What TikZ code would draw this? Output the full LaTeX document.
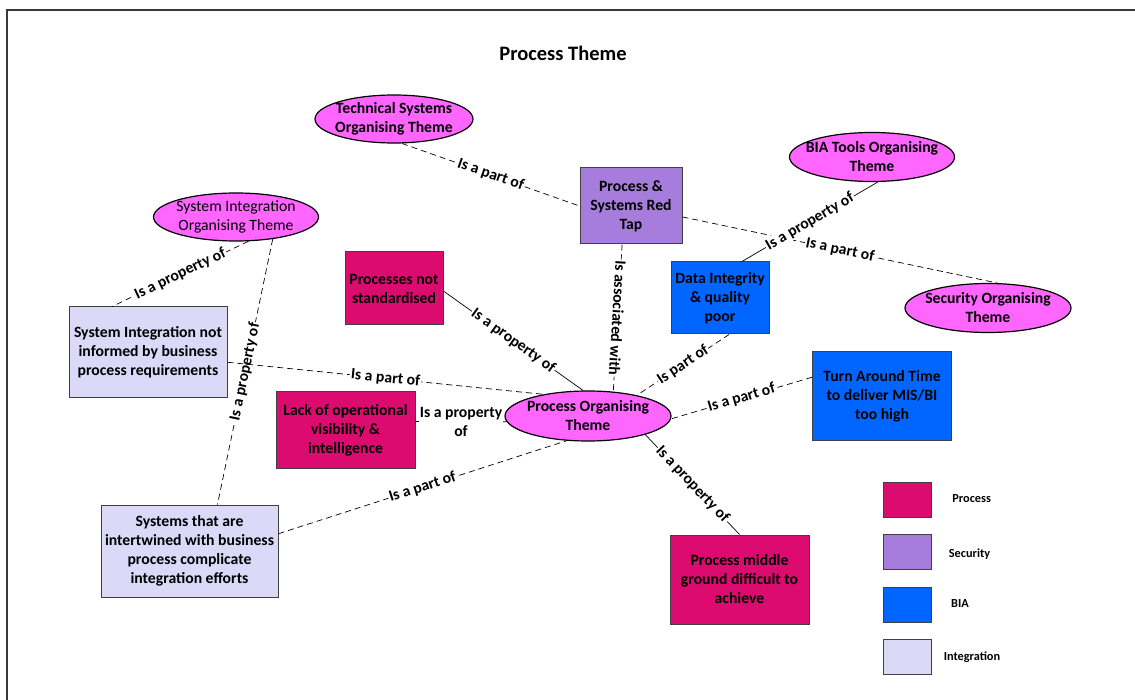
\documentclass[tikz,border=0pt]{standalone}
\usepackage{fontspec}
\setmainfont{Carlito}
\usetikzlibrary{shapes.geometric}

\definecolor{themefill}{HTML}{FF66FF}
\definecolor{procfill}{HTML}{DC0B6F}
\definecolor{secfill}{HTML}{A67DDC}
\definecolor{biafill}{HTML}{0066FF}
\definecolor{intfill}{HTML}{DCD9F8}
\definecolor{boxline}{HTML}{404040}
\definecolor{frameline}{HTML}{3A3A3A}

\newcommand\dgmsize{\fontsize{15.7}{19}\selectfont}

\begin{document}
\begin{tikzpicture}[x=1pt, y=-1pt,
  every node/.style={font=\dgmsize\bfseries, align=center, inner sep=0pt},
  theme/.style={ellipse, draw=black, line width=1.2pt, fill=themefill},
  box/.style={rectangle, draw=boxline, line width=1pt},
  proc/.style={box, fill=procfill},
  sec/.style={box, fill=secfill},
  bia/.style={box, fill=biafill},
  integ/.style={box, fill=intfill},
  keybox/.style={box, minimum width=48, minimum height=35},
  keytext/.style={font=\fontsize{12.3}{14}\selectfont\bfseries},
  link/.style={line width=0.7pt},
  dlink/.style={link, dash pattern=on 6pt off 4pt},
  lbl/.style={fill=white, inner sep=1pt, pos=0.5},
  slbl/.style={lbl, sloped},
]
\useasboundingbox (0,0) rectangle (1135,700);

% page frame
\draw[frameline, line width=2pt] (7,700) -- (7,10) -- (1135,10);

% title
\node[font=\fontsize{20.5}{24}\selectfont\bfseries] (title) at (563,53) {Process Theme};

% organising themes
\node[theme, minimum width=158, minimum height=48, label={center:{Technical Systems\\Organising Theme}}] (tech) at (394,119) {};
\node[theme, minimum width=165, minimum height=48, label={[font=\dgmsize\mdseries]center:{System Integration\\Organising Theme}}] (sio) at (236,217) {};
\node[theme, minimum width=165, minimum height=49, label={center:{BIA Tools Organising\\Theme}}] (biat) at (872,157) {};
\node[theme, minimum width=166, minimum height=49, label={center:{Security Organising\\Theme}}] (secth) at (988,308) {};
\node[theme, minimum width=166, minimum height=50, label={center:{Process Organising\\Theme}}] (pot) at (588,416) {};

% issue boxes
\node[sec, minimum width=102, minimum height=76] (redtap) at (631,206) {Process \&\\Systems Red\\Tap};
\node[proc, minimum width=98, minimum height=73] (procs) at (394,288.5) {Processes not\\standardised};
\node[bia, minimum width=98, minimum height=72] (dataint) at (720,298) {Data Integrity\\\& quality\\poor};
\node[integ, minimum width=158, minimum height=91] (sinot) at (148,352.5) {System Integration not\\informed by business\\process requirements};
\node[proc, minimum width=139, minimum height=76] (lack) at (345.5,430) {Lack of operational\\visibility \&\\intelligence};
\node[bia, minimum width=139, minimum height=88] (turn) at (882,396) {Turn Around Time\\to deliver MIS/BI\\too high};
\node[integ, minimum width=177, minimum height=92] (sysint) at (189.5,551) {Systems that are\\intertwined with business\\process complicate\\integration efforts};
\node[proc, minimum width=139, minimum height=89] (mid) at (739.5,579.5) {Process middle\\ground difficult to\\achieve};

% relations
\draw[dlink] (tech.-72) -- node[slbl] {Is a part of} (redtap.west);
\draw[dlink] (redtap.-12) -- node[slbl] {Is a part of} (secth.69);
\draw[link] (biat.-77) -- node[slbl] {Is a property of} (dataint.59);
\draw[dlink] (redtap.-103) -- node[slbl, allow upside down] {Is associated with} (pot.44);
\draw[dlink] (sio.-63) -- node[slbl] {Is a property of} (sinot.128);
\draw[dlink] (sio.-31) -- node[slbl] {Is a property of} (sysint.59);
\draw[dlink] (sinot.-7) -- node[slbl] {Is a part of} (pot.154);
\draw[link] (procs.-3) -- node[slbl] {Is a property of} (pot.101);
\draw[link] (lack.7) -- node[lbl] {Is a property\\of} (pot.184);
\draw[dlink] (dataint.-76) -- node[slbl] {Is part of} (pot.23);
\draw[dlink] (turn.165) -- node[slbl] {Is a part of} (pot.-2);
\draw[dlink] (sysint.11.5) -- node[slbl] {Is a part of} (pot.-131);
\draw[link] (pot.-18) -- node[slbl] {Is a property of} (mid.north);

% key
\node[keybox, fill=procfill] (keyproc) at (907,499.5) {};
\node[keybox, fill=secfill] (keysec) at (907,551.5) {};
\node[keybox, fill=biafill] (keybia) at (907,604.5) {};
\node[keybox, fill=intfill] (keyint) at (907,656.5) {};
\node[keytext] (keyproct) at (971.7,499) {Process};
\node[keytext] (keysect) at (969.5,554) {Security};
\node[keytext] (keybiat) at (960,604) {BIA};
\node[keytext] (keyintt) at (972,657) {Integration};
\end{tikzpicture}
\end{document}
